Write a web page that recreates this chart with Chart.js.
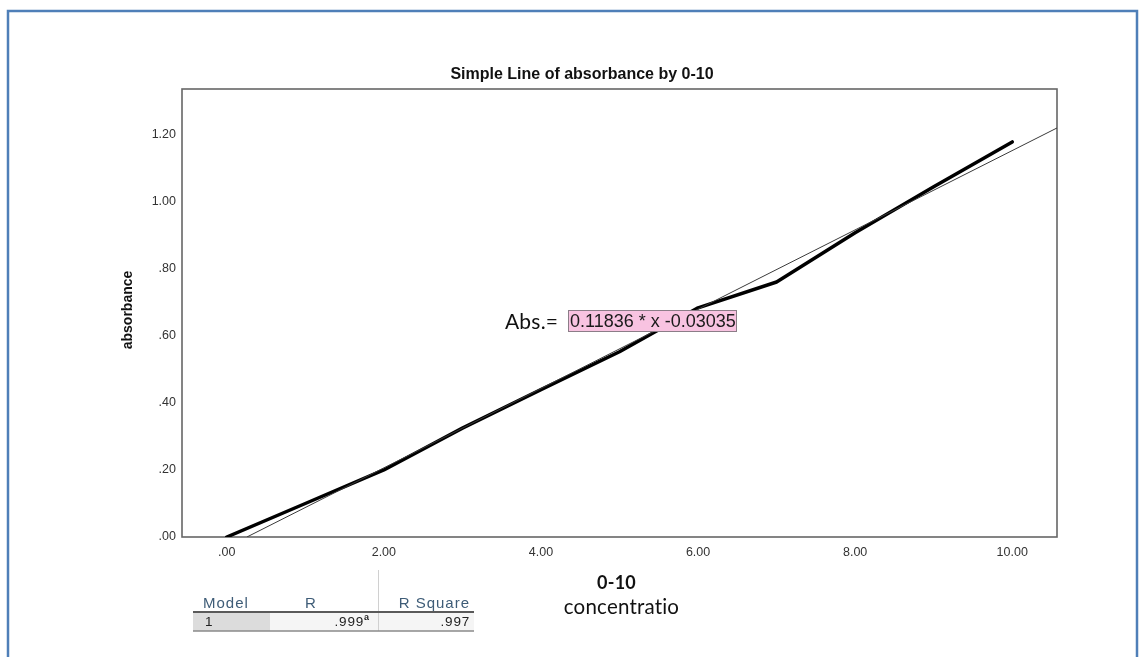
<!DOCTYPE html>
<html>
<head>
<meta charset="utf-8">
<script src="https://cdn.jsdelivr.net/npm/chart.js@4/dist/chart.umd.min.js"></script>
<style>
  html, body { margin: 0; padding: 0; background: #ffffff; }
  #wrap { position: relative; width: 1141px; height: 657px; }
</style>
</head>
<body>
<div id="wrap"><canvas id="c" width="1141" height="657"></canvas></div>
<script>
// Measured absorbance for each standard concentration (0-10)
const concentration = [0, 1, 2, 3, 4, 5, 6, 7, 8, 9, 10];
const absorbance = [0.000, 0.100, 0.200, 0.325, 0.440, 0.553, 0.684, 0.761, 0.908, 1.045, 1.179];

// Linear fit reported on the chart
const fitSlope = 0.11836;
const fitIntercept = -0.03035;

// Axis ticks and ranges
const xTicks = [0, 2, 4, 6, 8, 10];
const yTicks = [0, 0.2, 0.4, 0.6, 0.8, 1.0, 1.2];
const xRange = [-0.57, 10.57];
const yRange = [0, 1.337];

// Model summary table
const summaryHeader = ['Model', 'R', 'R Square'];
const summaryRow = ['1', '.999', '.997'];
const summaryNote = 'a';

const chartTitle = 'Simple Line of absorbance by 0-10';
const yTitle = 'absorbance';
const xTitle = ['0-10', 'concentratio'];
const equationLead = 'Abs.=';

const fmt = v => {
  const s = Number(v).toFixed(2);
  return s.startsWith('0.') ? s.slice(1) : s;
};

const fitStartX = -fitIntercept / fitSlope;   // where the fit meets y = 0
const fitLine = [fitStartX, xRange[1]].map(x => ({ x, y: fitSlope * x + fitIntercept }));
const dataLine = concentration.map((x, i) => ({ x, y: absorbance[i] }));
const equationText = fitSlope.toFixed(5) + ' * x ' + fitIntercept.toFixed(5);

const SANS = '"Liberation Sans", Arial, sans-serif';
const HUMANIST = 'Lato, "Open Sans", sans-serif';

const decorations = {
  id: 'decorations',
  beforeDatasetsDraw(chart) {
    const { ctx, chartArea: a } = chart;
    ctx.save();
    ctx.strokeStyle = '#666';
    ctx.lineWidth = 1.6;
    ctx.strokeRect(a.left, a.top, a.right - a.left, a.bottom - a.top);
    ctx.restore();
  },
  afterDraw(chart) {
    const { ctx, chartArea: a } = chart;
    ctx.save();

    // outer frame
    ctx.strokeStyle = '#4f7fb8';
    ctx.lineWidth = 2.5;
    ctx.beginPath();
    ctx.moveTo(8, 700);
    ctx.lineTo(8, 11);
    ctx.lineTo(1137, 11);
    ctx.lineTo(1137, 700);
    ctx.stroke();

    // chart title
    ctx.fillStyle = '#111';
    ctx.font = 'bold 16px ' + SANS;
    ctx.textAlign = 'center';
    ctx.textBaseline = 'middle';
    ctx.fillText(chartTitle, 582, 75);

    // y axis title
    ctx.save();
    ctx.translate(128, 310);
    ctx.rotate(-Math.PI / 2);
    ctx.font = 'bold 14px ' + SANS;
    ctx.fillText(yTitle, 0, 0);
    ctx.restore();

    // x axis title
    const cx = (a.left + a.right) / 2;
    ctx.letterSpacing = '0.2px';
    ctx.font = 'bold 18px ' + HUMANIST;
    ctx.fillText(xTitle[0], cx - 3, 583);
    ctx.font = '20.5px ' + HUMANIST;
    ctx.fillText(xTitle[1], cx + 2, 607);

    // regression equation
    ctx.textAlign = 'left';
    ctx.font = '21px ' + HUMANIST;
    ctx.fillStyle = '#111';
    ctx.fillText(equationLead, 505, 322);
    ctx.letterSpacing = '0px';
    ctx.fillStyle = '#f8c3e1';
    ctx.fillRect(568, 310, 169, 22);
    ctx.strokeStyle = '#8c7d88';
    ctx.lineWidth = 1;
    ctx.strokeRect(568.5, 310.5, 168, 21);
    ctx.fillStyle = '#1a1a1a';
    ctx.font = '18px ' + SANS;
    ctx.fillText(equationText, 570, 322);

    // model summary table
    const tL = 193, tR = 474, sep = 378, grayR = 270;
    const hY = 604, hLine = 612, rY = 622, bLine = 631;
    ctx.fillStyle = '#f5f5f5';
    ctx.fillRect(tL, hLine, tR - tL, bLine - hLine);
    ctx.fillStyle = '#dcdcdc';
    ctx.fillRect(tL, hLine, grayR - tL, bLine - hLine);
    ctx.strokeStyle = '#d0d0d0';
    ctx.lineWidth = 1;
    ctx.beginPath();
    ctx.moveTo(sep + 0.5, 570); ctx.lineTo(sep + 0.5, bLine);
    ctx.stroke();
    ctx.strokeStyle = '#5a5a5a';
    ctx.lineWidth = 2;
    ctx.beginPath();
    ctx.moveTo(tL, hLine); ctx.lineTo(tR, hLine);
    ctx.stroke();
    ctx.strokeStyle = '#8a8a8a';
    ctx.lineWidth = 1.5;
    ctx.beginPath();
    ctx.moveTo(tL, bLine); ctx.lineTo(tR, bLine);
    ctx.stroke();

    ctx.fillStyle = '#3e5c77';
    ctx.font = '15px ' + SANS;
    ctx.letterSpacing = '1px';
    ctx.textAlign = 'left';
    ctx.fillText(summaryHeader[0], 203, hY);
    ctx.textAlign = 'center';
    ctx.fillText(summaryHeader[1], 311, hY);
    ctx.textAlign = 'right';
    ctx.fillText(summaryHeader[2], 470, hY);

    ctx.fillStyle = '#222';
    ctx.font = '13.5px ' + SANS;
    ctx.letterSpacing = '0.8px';
    ctx.textAlign = 'left';
    ctx.fillText(summaryRow[0], 205, rY);
    ctx.textAlign = 'right';
    ctx.fillText(summaryRow[1], 364, rY);
    ctx.fillText(summaryRow[2], 470, rY);
    ctx.letterSpacing = '0px';
    ctx.font = 'bold 9px ' + SANS;
    ctx.textAlign = 'left';
    ctx.fillText(summaryNote, 364, rY - 4);

    ctx.restore();
  }
};

new Chart(document.getElementById('c'), {
  type: 'scatter',
  data: {
    datasets: [
      {
        label: 'Linear fit',
        data: fitLine,
        showLine: true,
        borderColor: '#3a3a3a',
        borderWidth: 1,
        pointRadius: 0,
        fill: false
      },
      {
        label: 'absorbance',
        data: dataLine,
        showLine: true,
        borderColor: '#000',
        borderWidth: 3.5,
        borderJoinStyle: 'round',
        borderCapStyle: 'round',
        pointRadius: 0,
        fill: false
      }
    ]
  },
  options: {
    responsive: false,
    animation: false,
    devicePixelRatio: 1,
    layout: { padding: { top: 89, right: 84, left: 0, bottom: 0 } },
    plugins: { legend: { display: false }, tooltip: { enabled: false }, title: { display: false } },
    scales: {
      x: {
        type: 'linear',
        min: xRange[0],
        max: xRange[1],
        afterFit(scale) { scale.height = 120; },
        afterBuildTicks(scale) { scale.ticks = xTicks.map(v => ({ value: v })); },
        grid: { display: false, drawTicks: false },
        border: { display: false },
        ticks: {
          padding: 8,
          color: '#333',
          font: { family: SANS, size: 12.5 },
          maxRotation: 0,
          autoSkip: false,
          callback: v => fmt(v)
        }
      },
      y: {
        type: 'linear',
        min: yRange[0],
        max: yRange[1],
        afterFit(scale) { scale.width = 182; },
        afterBuildTicks(scale) { scale.ticks = yTicks.map(v => ({ value: v })); },
        grid: { display: false, drawTicks: false },
        border: { display: false },
        ticks: {
          padding: 6,
          color: '#333',
          font: { family: SANS, size: 12.5 },
          autoSkip: false,
          callback: v => fmt(v)
        }
      }
    }
  },
  plugins: [decorations]
});
</script>
</body>
</html>
